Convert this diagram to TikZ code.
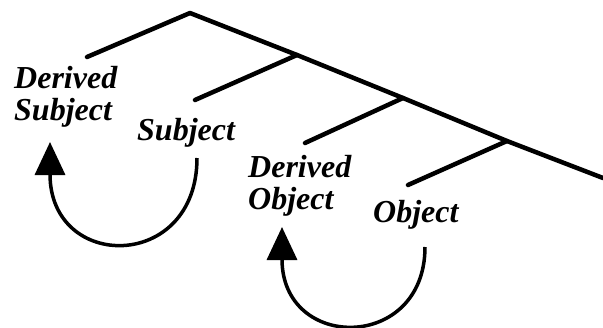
\documentclass[tikz,border=0pt]{standalone}
\usepackage{fontspec}
\setmainfont{Liberation Serif}
\usetikzlibrary{arrows.meta}

\begin{document}
\begin{tikzpicture}[x=1pt, y=-1pt,
    branch/.style={line width=4.5pt, line cap=round, line join=round},
    role/.style={anchor=base west, inner sep=0pt, align=left,
      font=\fontsize{32}{32}\selectfont\bfseries\itshape},
    move/.style={line width=3.5pt, -{Triangle[length=33pt, width=30pt]}}
  ]
    \useasboundingbox (0,0) rectangle (603,327);

    % tree
    \coordinate (top) at (190,13);
    \coordinate (n1) at (297,55);
    \coordinate (n2) at (403,98);
    \coordinate (n3) at (507,141);
    \coordinate (end) at (603,178);
    \coordinate (l0) at (87,57);
    \coordinate (l1) at (195,100);
    \coordinate (l2) at (305,143);
    \coordinate (l3) at (408,185);

    \draw[branch] (l0) -- (top) -- (n1) -- (n2) -- (n3) -- (end);
    \draw[branch] (l1) -- (n1);
    \draw[branch] (l2) -- (n2);
    \draw[branch] (l3) -- (n3);

    % labels (base = last line)
    \node[role] (dsubj) at (14,120)  {Derived\\Subject};
    \node[role] (subj)  at (137,140) {Subject};
    \node[role] (dobj)  at (248,209) {Derived\\Object};
    \node[role] (obj)   at (373,222) {Object};

    % movement
    \coordinate (s1) at (197,158);
    \coordinate (t1) at (50,142);
    \coordinate (s2) at (425,247);
    \coordinate (t2) at (282,227);
    \draw[move] (s1) .. controls (197,272) and (50,272) .. (t1);
    \draw[move] (s2) .. controls (425,352) and (282,352) .. (t2);

\end{tikzpicture}
\end{document}
